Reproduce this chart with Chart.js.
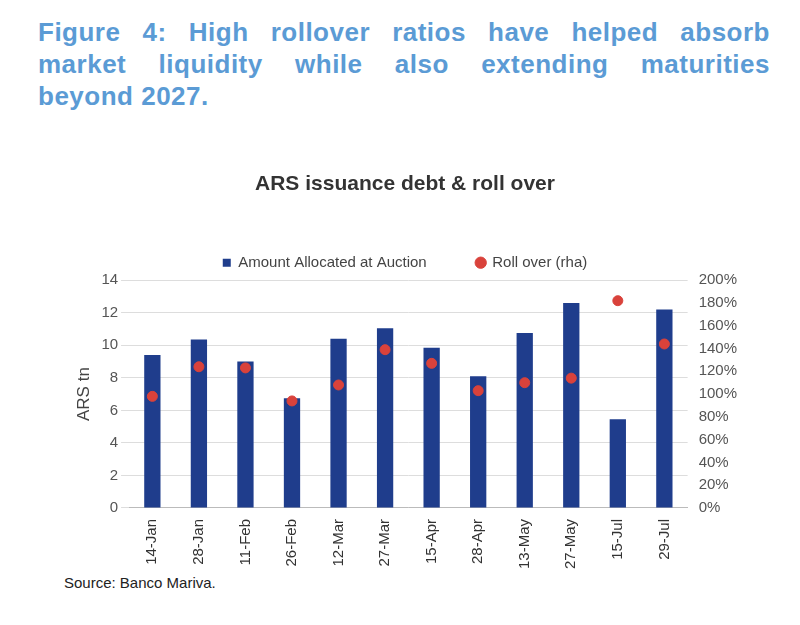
<!DOCTYPE html>
<html>
<head>
<meta charset="utf-8">
<script src="https://cdn.jsdelivr.net/npm/chart.js@4/dist/chart.umd.min.js"></script>
<style>
body { margin: 0; background: #fff; font-family: Arial, "Liberation Sans", sans-serif; }
#title { position: absolute; left: 38px; top: 16px; width: 732px; color: #5b9bd5; font-weight: bold; font-size: 26px; line-height: 32px; letter-spacing: 0.5px; }
#title div { text-align: justify; text-align-last: justify; }
#title div.last { text-align-last: left; }
#wrap { position: absolute; left: 60px; top: 172px; width: 700px; height: 400px; }
#source { position: absolute; left: 64px; top: 574px; font-size: 15px; color: #222; }
</style>
</head>
<body>
<div id="title">
<div>Figure 4: High rollover ratios have helped absorb</div>
<div>market liquidity while also extending maturities</div>
<div class="last">beyond 2027.</div>
</div>
<div id="wrap"><canvas id="chart"></canvas></div>
<div id="source">Source: Banco Mariva.</div>
<script>
const categories = ["14-Jan", "28-Jan", "11-Feb", "26-Feb", "12-Mar", "27-Mar", "15-Apr", "28-Apr", "13-May", "27-May", "15-Jul", "29-Jul"];
const amountAllocated = [9.4, 10.35, 9.0, 6.75, 10.4, 11.05, 9.85, 8.1, 10.75, 12.6, 5.45, 12.2];
const rollOver = [98, 124, 123, 94, 108, 139, 127, 103, 110, 114, 182, 144];

new Chart(document.getElementById("chart"), {
    data: {
        labels: categories,
        datasets: [{
            type: "scatter",
            label: "Roll over (rha)",
            data: rollOver,
            yAxisID: "y1",
            backgroundColor: "#d9423b",
            borderColor: "#d9423b",
            pointRadius: 5,
            pointStyle: "circle"
        }, {
            type: "bar",
            label: "Amount Allocated at Auction",
            data: amountAllocated,
            yAxisID: "y",
            backgroundColor: "#1f3d8c",
            barPercentage: 0.35,
            categoryPercentage: 1
        }]
    },
    options: {
        responsive: true,
        maintainAspectRatio: false,
        animation: false,
        layout: { padding: { left: 10, right: 20 } },
        plugins: {
            title: {
                display: true,
                text: "ARS issuance debt & roll over",
                color: "#333",
                font: { size: 21, weight: "bold", family: "Arial" },
                padding: { top: 0, bottom: 8 }
            },
            legend: {
                reverse: true,
                labels: {
                    usePointStyle: true,
                    color: "#444",
                    font: { size: 15, family: "Arial" },
                    boxWidth: 8,
                    boxHeight: 8,
                    padding: 50,
                    generateLabels: function(chart) {
                        const items = Chart.defaults.plugins.legend.labels.generateLabels(chart);
                        items.forEach(function(it) {
                            it.pointStyle = it.text.indexOf("Roll") === 0 ? "circle" : "rect";
                        });
                        return items;
                    }
                }
            }
        },
        scales: {
            x: {
                type: "category",
                grid: { display: false },
                border: { color: "#bbb" },
                ticks: { color: "#333", font: { size: 15, family: "Arial" }, maxRotation: 90, minRotation: 90 }
            },
            y: {
                min: 0,
                max: 14,
                ticks: { stepSize: 2, color: "#555", font: { size: 15, family: "Arial" } },
                grid: { color: "#ddd" },
                border: { display: false },
                title: { display: true, text: "ARS tn", color: "#444", font: { size: 17, family: "Arial" } }
            },
            y1: {
                position: "right",
                min: 0,
                max: 200,
                ticks: { stepSize: 20, color: "#555", font: { size: 15, family: "Arial" }, callback: function(v) { return v + "%"; } },
                grid: { display: false },
                border: { display: false }
            }
        }
    }
});
</script>
</body>
</html>
